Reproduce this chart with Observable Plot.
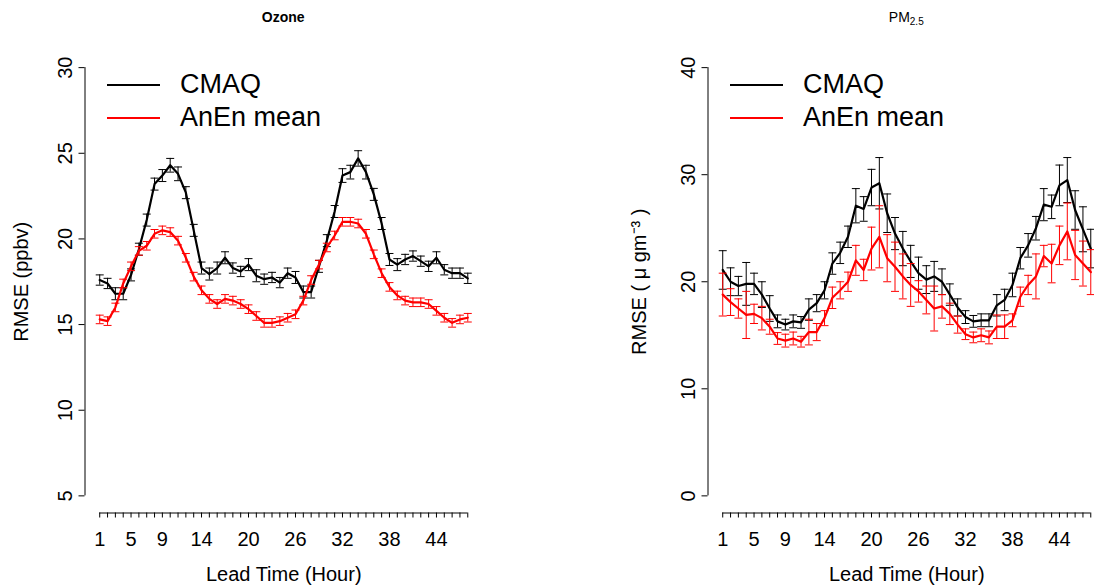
<!DOCTYPE html>
<html><head><meta charset="utf-8">
<script src="https://cdn.jsdelivr.net/npm/d3@7"></script>
<script src="https://cdn.jsdelivr.net/npm/@observablehq/plot@0.6"></script>
<style>
body{margin:0;background:#fff;width:1094px;height:586px;overflow:hidden;position:relative;font-family:"Liberation Sans",Arial,Helvetica,sans-serif;color:#000;}
.panel{position:absolute;top:0;width:623px;height:586px;}
.panel svg{position:absolute;left:0;top:0;}
.title{position:absolute;top:8px;left:84.5px;width:397.5px;text-align:center;font-size:14px;line-height:18px;}
.title.bold{font-weight:bold;}
.title sub{font-size:10px;vertical-align:-3px;line-height:0;}
.legend{position:absolute;left:107px;top:68px;font-size:27px;}
.legend div{display:flex;align-items:center;height:33px;}
.legend span.sw{display:inline-block;width:53px;height:2px;margin-right:20px;}
</style>
</head><body>
<script>
// ---- data ----
const hours = [1,2,3,4,5,6,7,8,9,10,11,12,13,14,15,16,17,18,19,20,21,22,23,24,25,26,27,28,29,30,31,32,33,34,35,36,37,38,39,40,41,42,43,44,45,46,47,48];
const hourLabels = [1,5,9,14,20,26,32,38,44];
const seriesNames = ["CMAQ","AnEn mean"];

const ozoneTicks = [5,10,15,20,25,30];
const ozoneCmaq = [17.6,17.4,16.8,16.8,17.9,19.4,21.1,23.2,23.7,24.3,23.8,22.7,20.5,18.3,17.95,18.3,18.9,18.3,18.1,18.5,17.85,17.65,17.75,17.45,18.0,17.75,16.9,16.9,18.4,19.9,21.6,23.7,23.9,24.7,23.9,22.6,20.9,18.8,18.5,18.8,19.0,18.7,18.4,18.9,18.2,18.0,18.0,17.7];
const ozoneCmaqErr = [0.3,0.3,0.35,0.35,0.35,0.35,0.35,0.35,0.35,0.4,0.4,0.35,0.35,0.35,0.35,0.35,0.35,0.3,0.3,0.35,0.35,0.3,0.3,0.3,0.3,0.35,0.35,0.35,0.35,0.35,0.35,0.4,0.4,0.45,0.4,0.35,0.35,0.35,0.35,0.3,0.3,0.3,0.3,0.35,0.3,0.3,0.3,0.3];
const ozoneAnen = [15.3,15.2,16.0,17.4,18.4,19.3,19.6,20.3,20.5,20.4,19.9,18.9,17.8,17.0,16.5,16.2,16.5,16.4,16.2,15.9,15.5,15.1,15.1,15.2,15.4,15.6,16.4,17.6,18.5,19.5,20.2,21.0,21.0,20.9,20.3,19.1,18.0,17.2,16.7,16.4,16.3,16.3,16.2,15.8,15.4,15.1,15.3,15.4];
const ozoneAnenErr = [0.25,0.25,0.25,0.25,0.25,0.25,0.25,0.25,0.25,0.25,0.25,0.25,0.25,0.25,0.25,0.25,0.25,0.25,0.25,0.25,0.25,0.25,0.25,0.25,0.25,0.25,0.25,0.25,0.25,0.25,0.25,0.25,0.25,0.25,0.25,0.25,0.25,0.25,0.25,0.25,0.25,0.25,0.25,0.25,0.25,0.25,0.25,0.25];

const pmTicks = [0,10,20,30,40];
const pmCmaq = [21.1,20.0,19.6,19.8,19.8,18.8,17.5,16.3,16.0,16.3,16.2,17.4,18.0,19.2,21.7,22.7,24.2,27.1,26.8,28.8,29.2,26.4,24.5,23.1,21.9,20.8,20.2,20.5,20.0,18.8,17.6,16.7,16.3,16.4,16.4,17.8,18.3,19.7,22.2,23.4,25.0,27.2,27.0,29.0,29.5,26.7,24.9,23.1];
const pmCmaqErr = [1.8,1.3,0.9,2.0,1.0,1.2,1.2,0.6,0.5,0.6,0.55,1.0,0.8,0.8,1.0,1.0,1.0,1.6,1.15,1.7,2.4,1.8,1.5,1.6,1.5,1.5,1.3,1.4,1.2,1.0,0.8,0.6,0.55,0.6,0.6,1.0,1.0,1.1,1.0,1.1,1.1,1.5,1.1,1.9,2.1,1.8,2.1,1.8];
const pmAnen = [18.8,18.1,17.5,16.9,17.0,16.6,15.8,14.7,14.5,14.7,14.4,15.3,15.3,16.6,18.5,19.2,20.0,22.0,21.1,23.1,24.2,22.2,21.4,20.5,19.7,19.1,18.3,17.5,17.7,17.0,16.0,15.1,14.8,15.0,14.8,15.8,15.8,16.4,18.6,19.7,20.5,22.4,21.7,23.4,24.7,22.5,21.7,20.9];
const pmAnenErr = [2.0,1.25,0.9,2.2,0.9,1.1,0.7,0.55,0.6,0.6,0.5,1.2,0.8,0.7,1.0,0.8,0.9,1.4,1.0,2.0,2.9,2.2,2.3,2.1,2.0,1.0,1.3,2.1,1.1,1.0,0.8,0.5,0.5,0.6,0.6,1.1,1.1,0.6,0.9,0.9,2.1,1.0,1.8,1.8,2.65,2.3,2.1,2.1];

const colors = ["#000000","#ff0000"];

// ---- helpers ----
const ext = (a, b) => [a - 0.04 * (b - a), b + 0.04 * (b - a)];
const cap = {draw(ctx) { ctx.moveTo(-4, 0); ctx.lineTo(4, 0); }};
const rows = (vals, errs) => hours.map((h, i) => ({h, v: vals[i], lo: vals[i] - errs[i], hi: vals[i] + errs[i]}));

function seriesMarks(data, color) {
  return [
    Plot.ruleX(data, {x: "h", y1: "lo", y2: "hi", stroke: color, strokeWidth: 1}),
    Plot.dot(data, {x: "h", y: "hi", symbol: cap, stroke: color, strokeWidth: 1, r: 4}),
    Plot.dot(data, {x: "h", y: "lo", symbol: cap, stroke: color, strokeWidth: 1, r: 4}),
    Plot.line(data, {x: "h", y: "v", stroke: color, strokeWidth: 2.2})
  ];
}

function panel(left, titleHTML, bold, yTicks, yLabel, yLabelOffset, s1, s2) {
  const div = document.createElement("div");
  div.className = "panel";
  div.style.left = left + "px";
  const xDom = ext(hours[0], hours[hours.length - 1]);
  const yDom = ext(yTicks[0], yTicks[yTicks.length - 1]);
  const chart = Plot.plot({
    width: 623, height: 586,
    marginLeft: 84.5, marginRight: 141, marginTop: 50, marginBottom: 73.5,
    style: {fontFamily: '"Liberation Sans", Arial, Helvetica, sans-serif', fontSize: "20px", color: "#000", background: "transparent", overflow: "visible"},
    x: {domain: xDom},
    y: {domain: yDom},
    marks: [
      Plot.axisX({ticks: hours, tickSize: 5, tickPadding: 14, tickFormat: d => hourLabels.includes(d) ? String(d) : "", label: "Lead Time (Hour)", labelAnchor: "center", labelArrow: "none", labelOffset: 68, fontSize: 20}),
      Plot.axisY({ticks: yTicks, tickSize: 6, tickPadding: 7, tickRotate: -90, tickFormat: d => String(d), label: yLabel, labelAnchor: "center", labelArrow: "none", labelOffset: yLabelOffset, fontSize: 20}),
      Plot.ruleY([yDom[0]], {x1: hours[0], x2: hours[hours.length - 1], stroke: "#000", strokeWidth: 1}),
      Plot.ruleX([xDom[0]], {y1: yTicks[0], y2: yTicks[yTicks.length - 1], stroke: "#000", strokeWidth: 1}),
      ...seriesMarks(s1, colors[0]),
      ...seriesMarks(s2, colors[1])
    ]
  });
  div.appendChild(chart);
  const t = document.createElement("div");
  t.className = "title" + (bold ? " bold" : "");
  t.innerHTML = titleHTML;
  div.appendChild(t);
  const lg = document.createElement("div");
  lg.className = "legend";
  seriesNames.forEach((n, i) => {
    const row = document.createElement("div");
    const sw = document.createElement("span");
    sw.className = "sw";
    sw.style.background = colors[i];
    row.appendChild(sw);
    const tx = document.createElement("span");
    tx.textContent = n;
    row.appendChild(tx);
    lg.appendChild(row);
  });
  div.appendChild(lg);
  document.body.appendChild(div);
}

panel(0, "Ozone", true, ozoneTicks, "RMSE (ppbv)", 71, rows(ozoneCmaq, ozoneCmaqErr), rows(ozoneAnen, ozoneAnenErr));
panel(623, "PM<sub>2.5</sub>", false, pmTicks, "RMSE ( \u03bc gm\u207b\u00b3 )", 76, rows(pmCmaq, pmCmaqErr), rows(pmAnen, pmAnenErr));
</script>
</body></html>
